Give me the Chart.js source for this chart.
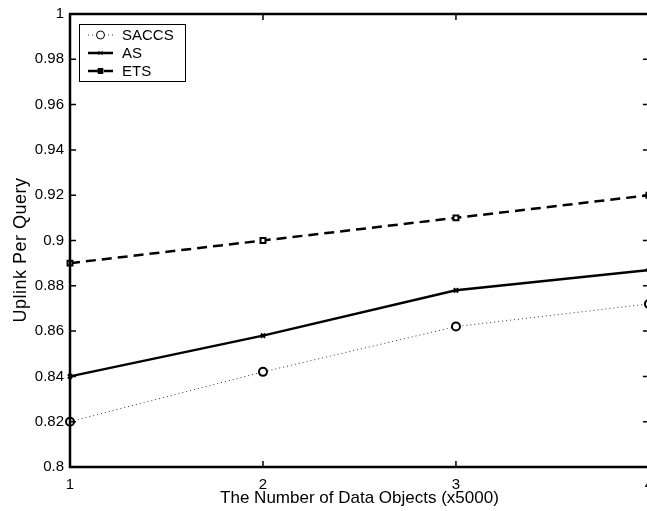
<!DOCTYPE html>
<html>
<head>
<meta charset="utf-8">
<script src="https://cdn.jsdelivr.net/npm/chart.js@4/dist/chart.umd.min.js"></script>
<style>
  html, body { margin: 0; padding: 0; background: #fff; overflow: hidden; }
  #wrap { position: relative; width: 647px; height: 511px; }
</style>
</head>
<body>
<div id="wrap"><canvas id="chart"></canvas></div>
<script>
// data
const objects = [1, 2, 3, 4];
const saccs = [0.82, 0.842, 0.862, 0.872];
const as = [0.84, 0.858, 0.878, 0.887];
const ets = [0.89, 0.90, 0.91, 0.92];
const xTicks = [1, 2, 3, 4];
const yTicks = [0.8, 0.82, 0.84, 0.86, 0.88, 0.9, 0.92, 0.94, 0.96, 0.98, 1];

const FONT = '"Liberation Sans", Arial, sans-serif';

function pts(ys) {
    return objects.map((x, i) => ({ x: x, y: ys[i] }));
}

// frame, inward ticks, legend box and axis titles
// (the original figure is cropped: its right edge sits just past the window)
const framePlugin = {
    id: 'frame',
    afterDraw(chart) {
        const ctx = chart.ctx;
        const a = chart.chartArea;
        const xs = chart.scales.x, ys = chart.scales.y;
        const right = xs.getPixelForValue(xTicks[xTicks.length - 1]);
        ctx.save();
        ctx.strokeStyle = '#000';
        ctx.lineWidth = 2.5;
        ctx.strokeRect(a.left, a.top, right - a.left, a.bottom - a.top);

        ctx.lineWidth = 1.5;
        ctx.beginPath();
        xTicks.forEach(v => {
            const px = xs.getPixelForValue(v);
            ctx.moveTo(px, a.bottom); ctx.lineTo(px, a.bottom - 6);
            ctx.moveTo(px, a.top); ctx.lineTo(px, a.top + 6);
        });
        yTicks.forEach(v => {
            const py = ys.getPixelForValue(v);
            ctx.moveTo(a.left, py); ctx.lineTo(a.left + 6, py);
            ctx.moveTo(right, py); ctx.lineTo(right - 6, py);
        });
        ctx.stroke();

        // legend
        const lx = 79, ly = 24, lw = 106, lh = 57;
        ctx.fillStyle = '#fff';
        ctx.fillRect(lx, ly, lw, lh);
        ctx.lineWidth = 1;
        ctx.strokeStyle = '#000';
        ctx.strokeRect(lx + 0.5, ly + 0.5, lw, lh);
        ctx.font = '15px ' + FONT;
        ctx.textBaseline = 'middle';
        chart.data.datasets.forEach((ds, i) => {
            const y = ly + 11 + i * 18;
            ctx.save();
            ctx.strokeStyle = ds.borderColor;
            ctx.lineWidth = ds.borderWidth;
            ctx.setLineDash(ds.borderDash || []);
            ctx.beginPath();
            ctx.moveTo(lx + 9, y); ctx.lineTo(lx + 34, y);
            ctx.stroke();
            ctx.restore();
            Chart.helpers.drawPoint(ctx, {
                pointStyle: ds.pointStyle,
                radius: ds.pointRadius,
                borderWidth: ds.pointBorderWidth
            }, lx + 21.5, y);
            ctx.fillStyle = '#000';
            ctx.fillText(ds.label, lx + 43, y + 1);
        });

        // axis titles
        ctx.fillStyle = '#000';
        ctx.font = '17px ' + FONT;
        ctx.textAlign = 'center';
        ctx.textBaseline = 'middle';
        ctx.fillText('The Number of Data Objects (x5000)', (a.left + right) / 2, 498);
        ctx.font = '18px ' + FONT;
        ctx.letterSpacing = '0.5px';
        ctx.translate(21, 250);
        ctx.rotate(-Math.PI / 2);
        ctx.fillText('Uplink Per Query', 0, 0);
        ctx.restore();
    }
};

function pointOpts(style, r) {
    return {
        pointStyle: style,
        pointRadius: r,
        pointHoverRadius: r,
        pointBorderWidth: 2,
        pointBorderColor: '#000',
        pointBackgroundColor: '#fff'
    };
}

new Chart(document.getElementById('chart'), {
    type: 'line',
    data: {
        datasets: [
            Object.assign({
                label: 'SACCS',
                data: pts(saccs),
                borderColor: '#333',
                borderWidth: 1,
                borderDash: [1, 3],
                clip: false
            }, pointOpts('circle', 4)),
            Object.assign({
                label: 'AS',
                data: pts(as),
                borderColor: '#000',
                borderWidth: 2.5,
                clip: false
            }, pointOpts('crossRot', 3)),
            Object.assign({
                label: 'ETS',
                data: pts(ets),
                borderColor: '#000',
                borderWidth: 2.5,
                borderDash: [10, 6],
                clip: false
            }, pointOpts('rect', 3.5))
        ]
    },
    options: {
        responsive: true,
        maintainAspectRatio: false,
        animation: false,
        layout: { autoPadding: false, padding: { top: 14, right: 0, left: 0, bottom: 0 } },
        plugins: {
            legend: { display: false },
            tooltip: { enabled: false }
        },
        scales: {
            x: {
                type: 'linear',
                min: 1,
                max: 3.99,
                afterFit(s) { s.height = 44; s.paddingLeft = 0; s.paddingRight = 0; },
                afterBuildTicks(s) { s.ticks = xTicks.map(v => ({ value: v })); },
                grid: { display: false, drawTicks: false },
                border: { display: false },
                ticks: { color: '#000', padding: 9, maxRotation: 0, font: { family: FONT, size: 15 } }
            },
            y: {
                min: 0.8,
                max: 1,
                afterFit(s) { s.width = 70; s.paddingTop = 0; s.paddingBottom = 0; },
                afterBuildTicks(s) { s.ticks = yTicks.map(v => ({ value: v })); },
                grid: { display: false, drawTicks: false },
                border: { display: false },
                ticks: {
                    color: '#000',
                    padding: 6,
                    font: { family: FONT, size: 15 },
                    callback: v => String(parseFloat(v.toFixed(2)))
                }
            }
        }
    },
    plugins: [framePlugin]
});
</script>
</body>
</html>
